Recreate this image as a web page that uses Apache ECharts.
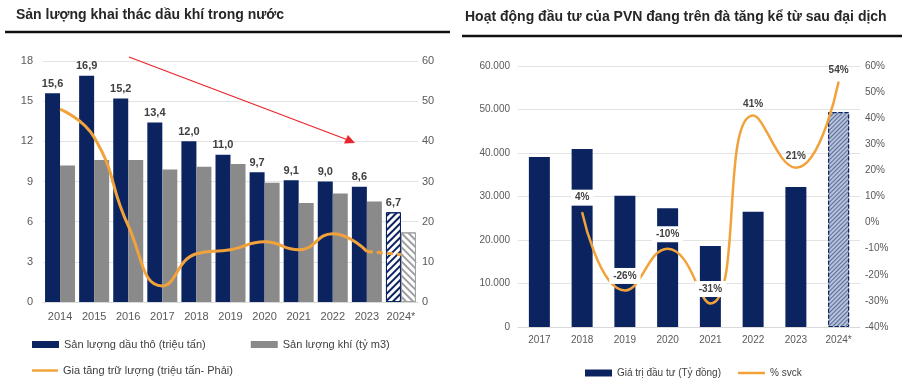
<!DOCTYPE html>
<html><head><meta charset="utf-8">
<script src="https://cdn.jsdelivr.net/npm/echarts@6/dist/echarts.min.js"></script>
<style>html,body{margin:0;padding:0;background:#fff}#c{width:907px;height:391px}</style>
</head><body><div id="c"></div>
<script>
// ---- Left chart data ----
const yearsL = ['2014','2015','2016','2017','2018','2019','2020','2021','2022','2023','2024*'];
const oil = [15.6,16.9,15.2,13.4,12.0,11.0,9.7,9.1,9.0,8.6,6.7];
const gas = [10.2,10.6,10.6,9.9,10.1,10.3,8.9,7.4,8.1,7.5,5.2];
const reserve = [48,41,19,4,12,13,15,13,17,12.6,11.8];
const leftTicksL = [0,3,6,9,12,15,18];
// ---- Right chart data ----
const yearsR = ['2017','2018','2019','2020','2021','2022','2023','2024*'];
const invest = [39100,40900,30200,27300,18600,26500,32200,49400];
const yoy = [null,4,-26,-10,-31,41,21,54];

const NAVY='#0b2460', GRAY='#8a8a8a', ORANGE='#f2a23a', TXT='#595959', FONT='Liberation Sans, Arial, sans-serif';
const last = yearsL.length-1;

const oilData = oil.map((v,i)=> i===last ? {value:v,itemStyle:{color:'#ffffff',borderColor:NAVY,borderWidth:1,
  decal:{symbol:'rect',color:NAVY,dashArrayX:[1,0],dashArrayY:[2,3],rotation:-Math.PI/4,symbolSize:1}}} : v);
const gasData = gas.map((v,i)=> i===last ? {value:v,itemStyle:{color:'#ffffff',borderColor:'#a0a0a0',borderWidth:1,
  decal:{symbol:'rect',color:'#a0a0a0',dashArrayX:[1,0],dashArrayY:[2,3],rotation:Math.PI/4,symbolSize:1}}} : v);
const resSolid = reserve.map((v,i)=> i<last ? v : null);
const resDash = reserve.map((v,i)=> i>=last-1 ? v : null);
const investData = invest.map((v,i)=> i===invest.length-1 ? {value:v,itemStyle:{color:'#b7c2da',borderColor:NAVY,borderWidth:1,borderType:'dashed',
  decal:{symbol:'rect',color:'#5a6d99',dashArrayX:[1,0],dashArrayY:[1,2],rotation:-Math.PI/4,symbolSize:1}}} : v);
const yoyData = yoy.map((v,i)=> (v!==null && v<0) || i===1 ? {value:v,label:{backgroundColor:'#ffffff',padding:[3,4]}} : v);

const chart = echarts.init(document.getElementById('c'),null,{renderer:'canvas'});
chart.setOption({
  animation:false,
  textStyle:{fontFamily:FONT},
  title:[
    {text:'Sản lượng khai thác dầu khí trong nước',left:11,top:3,textStyle:{fontSize:14,fontWeight:'bold',color:'#262626',fontFamily:FONT}},
    {text:'Hoạt động đầu tư của PVN đang trên đà tăng kể từ sau đại dịch',left:460,top:5,textStyle:{fontSize:14,fontWeight:'bold',color:'#262626',fontFamily:FONT}}
  ],
  graphic:[
    {type:'line',shape:{x1:5,y1:32,x2:450,y2:32},style:{stroke:'#111',lineWidth:2.5}},
    {type:'line',shape:{x1:462,y1:36,x2:902,y2:36},style:{stroke:'#111',lineWidth:2.5}},
    {type:'line',shape:{x1:129,y1:57,x2:348,y2:140},style:{stroke:'#e8262b',lineWidth:1.3},z:10},
    {type:'polygon',shape:{points:[[355,143],[344,143.5],[348,135]]},style:{fill:'#e8262b'},z:10}
  ],
  legend:[
    {data:['Sản lượng dầu thô (triệu tấn)','Sản lượng khí (tỷ m3)'],left:27,top:334,itemWidth:27,itemHeight:7,itemGap:45,
     textStyle:{fontSize:11,color:'#404040',fontFamily:FONT},icon:'rect'},
    {data:[{name:'Gia tăng trữ lượng (triệu tấn- Phải)',icon:'rect'}],left:27,top:360,itemWidth:26,itemHeight:2.5,
     textStyle:{fontSize:11,color:'#404040',fontFamily:FONT}},
    {data:[{name:'Giá trị đầu tư (Tỷ đồng)',icon:'rect'}],left:580,top:363,itemWidth:27,itemHeight:7,
     textStyle:{fontSize:10,color:'#404040',fontFamily:FONT}},
    {data:[{name:'% svck',icon:'rect'}],left:733,top:363,itemWidth:27,itemHeight:2.5,
     textStyle:{fontSize:10,color:'#404040',fontFamily:FONT}}
  ],
  grid:[
    {left:43,right:489,top:61,bottom:89},
    {left:518,right:47,top:66,bottom:64}
  ],
  xAxis:[
    {type:'category',gridIndex:0,data:yearsL,axisTick:{show:false},axisLine:{lineStyle:{color:'#d9d9d9'}},
     axisLabel:{fontSize:11,color:TXT,margin:9,interval:0}},
    {type:'category',gridIndex:1,data:yearsR,axisTick:{show:false},axisLine:{lineStyle:{color:'#d9d9d9'}},
     axisLabel:{fontSize:10,color:TXT,margin:8,interval:0}}
  ],
  yAxis:[
    {type:'value',gridIndex:0,min:leftTicksL[0],max:leftTicksL[leftTicksL.length-1],interval:3,
     axisLabel:{fontSize:11,color:TXT,margin:10},splitLine:{lineStyle:{color:'#e3e3e3'}}},
    {type:'value',gridIndex:0,min:0,max:60,interval:10,position:'right',
     axisLabel:{fontSize:11,color:TXT,margin:4},splitLine:{show:false}},
    {type:'value',gridIndex:1,min:0,max:60000,interval:10000,
     axisLabel:{fontSize:10,color:TXT,margin:8,formatter:v=>v.toString().replace(/\B(?=(\d{3})+(?!\d))/g,'.')},
     splitLine:{lineStyle:{color:'#e3e3e3'}}},
    {type:'value',gridIndex:1,min:-40,max:60,interval:10,position:'right',
     axisLabel:{fontSize:10,color:TXT,margin:5,formatter:'{value}%'},splitLine:{show:false}}
  ],
  series:[
    {name:'Sản lượng dầu thô (triệu tấn)',type:'bar',xAxisIndex:0,yAxisIndex:0,data:oilData,barWidth:15,barGap:'0%',
     itemStyle:{color:NAVY},
     label:{show:true,position:'top',distance:4,fontSize:11,fontWeight:'bold',color:'#404040',
       formatter:p=>p.value.toFixed(1).replace('.',',')}},
    {name:'Sản lượng khí (tỷ m3)',type:'bar',xAxisIndex:0,yAxisIndex:0,data:gasData,barWidth:15,barGap:'0%',
     itemStyle:{color:GRAY}},
    {name:'Gia tăng trữ lượng (triệu tấn- Phải)',type:'line',xAxisIndex:0,yAxisIndex:1,data:resSolid,smooth:0.5,
     symbol:'none',lineStyle:{color:ORANGE,width:3},itemStyle:{color:ORANGE},z:5},
    {name:'dash',type:'line',xAxisIndex:0,yAxisIndex:1,data:resDash,smooth:0.5,
     symbol:'none',lineStyle:{color:ORANGE,width:3,type:[6,4]},itemStyle:{color:ORANGE},z:5},
    {name:'Giá trị đầu tư (Tỷ đồng)',type:'bar',xAxisIndex:1,yAxisIndex:2,data:investData,barWidth:21,
     itemStyle:{color:NAVY}},
    {name:'% svck',type:'line',xAxisIndex:1,yAxisIndex:3,data:yoyData,smooth:0.5,connectNulls:false,
     symbol:'circle',symbolSize:1,showSymbol:true,
     lineStyle:{color:ORANGE,width:2.5},itemStyle:{color:ORANGE},z:5,
     label:{show:true,position:'top',distance:6,fontSize:10,fontWeight:'bold',color:'#404040',
       formatter:p=>p.value+'%'}}
  ]
});
</script></body></html>
